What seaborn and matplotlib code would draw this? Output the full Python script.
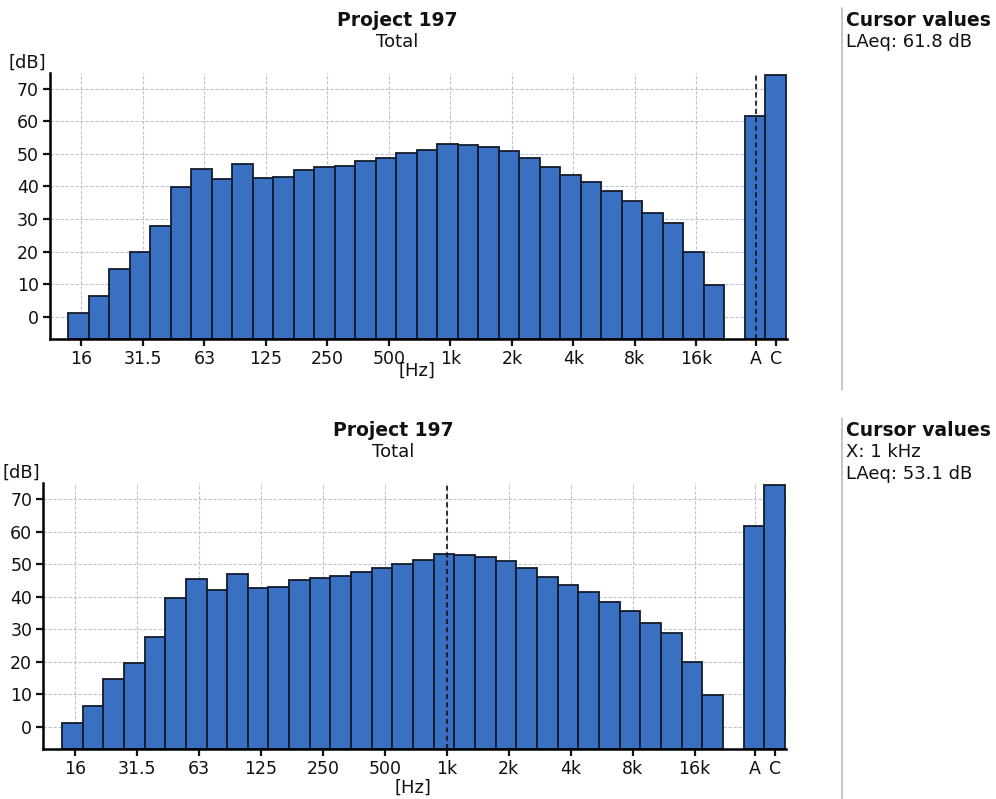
import matplotlib
matplotlib.use("Agg")
import matplotlib.pyplot as plt
from matplotlib.lines import Line2D
import seaborn as sns
import pandas as pd

# ---- data -------------------------------------------------------------
bands = ["16", "20", "25", "31.5", "40", "50", "63", "80", "100", "125",
         "160", "200", "250", "315", "400", "500", "630", "800", "1k",
         "1.25k", "1.6k", "2k", "2.5k", "3.15k", "4k", "5k", "6.3k", "8k",
         "10k", "12.5k", "16k", "20k"]
levels = [1.2, 6.4, 14.7, 19.7, 27.7, 39.7, 45.3, 42.2, 47.0, 42.7,
          43.0, 45.2, 45.9, 46.4, 47.7, 48.9, 50.2, 51.3, 53.1,
          52.7, 52.3, 51.0, 48.9, 46.1, 43.6, 41.4, 38.5, 35.6,
          31.9, 28.7, 19.8, 9.7]
weighted_labels = ["A", "C"]
weighted_levels = [61.8, 74.4]
tick_bands = ["16", "31.5", "63", "125", "250", "500", "1k", "2k", "4k",
              "8k", "16k"]
y_ticks = [0, 10, 20, 30, 40, 50, 60, 70]
y_range = (-7, 75)
title = "Project 197"
subtitle = "Total"
cursor_top = ["LAeq: 61.8 dB"]
cursor_bottom = ["X: 1 kHz", "LAeq: 53.1 dB"]
cursor_pos_top = "A"
cursor_pos_bottom = "1k"

df = pd.DataFrame({"band": bands + weighted_labels,
                   "level": levels + weighted_levels})
order = bands + [" "] + weighted_labels

# ---- style ------------------------------------------------------------
sns.set_theme(style="white")
plt.rcParams["font.family"] = ["DejaVu Sans"]

W, H = 996, 799
fig = plt.figure(figsize=(W / 100, H / 100), dpi=100)
fig.patch.set_facecolor("white")

BAR = "#3a70c2"
EDGE = "#121a2c"
GRID = "#bcc3d2"


def ax_rect(left, right, top, bottom):
    return [left / W, 1 - bottom / H, (right - left) / W, (bottom - top) / H]


def draw_panel(rect, cursor_label, txt_y0, title_x, hz_x, hz_y, db_x, cursor_lines):
    ax = fig.add_axes(rect)
    sns.barplot(data=df, x="band", y="level", order=order, ax=ax,
                color=BAR, saturation=1, width=1.0,
                edgecolor=EDGE, linewidth=1.3, zorder=3)
    # bars grow from the bottom of the plot area, as in the reference
    base = y_range[0]
    for p in ax.patches:
        top = p.get_y() + p.get_height()
        p.set_y(base)
        p.set_height(top - base)
    ax.set_xlim(-1.4, 34.55)
    ax.set_ylim(*y_range)
    ax.set_yticks(y_ticks)
    ax.set_yticklabels([str(v) for v in y_ticks])
    pos = {lab: i for i, lab in enumerate(order)}
    xt = [pos[b] + 0.13 for b in tick_bands] + [pos["A"] + 0.05, pos["C"] + 0.03]
    ax.set_xticks(xt)
    ax.set_xticklabels(tick_bands + weighted_labels)
    ax.set_xlabel("")
    ax.set_ylabel("")
    ax.grid(True, color=GRID, linewidth=0.8, linestyle=(0, (3, 1.5)), zorder=0)
    ax.set_axisbelow(True)
    for s in ["top", "right"]:
        ax.spines[s].set_visible(False)
    for s in ["left", "bottom"]:
        ax.spines[s].set_color("#000000")
        ax.spines[s].set_linewidth(1.8)
        ax.spines[s].set_zorder(6)
    ax.tick_params(axis="both", which="major", length=5, width=1.6,
                   color="#111111", labelsize=12.5, labelcolor="#111111",
                   bottom=True, left=True, direction="out", pad=3)
    cx = pos[cursor_label] + (0.06 if cursor_label in weighted_labels else 0.14)
    ax.axvline(cx, color="#111111", linestyle=(0, (3, 2)), linewidth=1.2, zorder=5)

    # texts
    fig.text(title_x / W, 1 - txt_y0 / H, title, ha="center", va="center",
             fontsize=13.5, fontweight="bold", color="#111111")
    fig.text(title_x / W, 1 - (txt_y0 + 22) / H, subtitle, ha="center",
             va="center", fontsize=13, color="#111111")
    fig.text(db_x / W, 1 - (txt_y0 + 43) / H, "[dB]", ha="left", va="center",
             fontsize=13, color="#111111")
    fig.text(hz_x / W, 1 - hz_y / H, "[Hz]", ha="center", va="center",
             fontsize=13, color="#111111")
    fig.text(846 / W, 1 - txt_y0 / H, "Cursor values", ha="left", va="center",
             fontsize=13.5, fontweight="bold", color="#111111")
    for k, line in enumerate(cursor_lines):
        fig.text(846 / W, 1 - (txt_y0 + 22 * (k + 1)) / H, line, ha="left",
                 va="center", fontsize=13, color="#111111")
    return ax


draw_panel(ax_rect(50, 787, 72.7, 339.3), cursor_pos_top, 20, 397, 417, 371, 9,
           cursor_top)
draw_panel(ax_rect(43.3, 786, 483, 749.3), cursor_pos_bottom, 430, 393, 413, 788, 3,
           cursor_bottom)

# separators on the right
fig.add_artist(Line2D([842 / W, 842 / W], [1 - 8 / H, 1 - 390 / H],
                      transform=fig.transFigure, color="#b8bcc4", linewidth=1.2))
fig.add_artist(Line2D([842 / W, 842 / W], [1 - 418 / H, 0],
                      transform=fig.transFigure, color="#b8bcc4", linewidth=1.2))

fig.savefig("out.png", dpi=100, facecolor="white")
